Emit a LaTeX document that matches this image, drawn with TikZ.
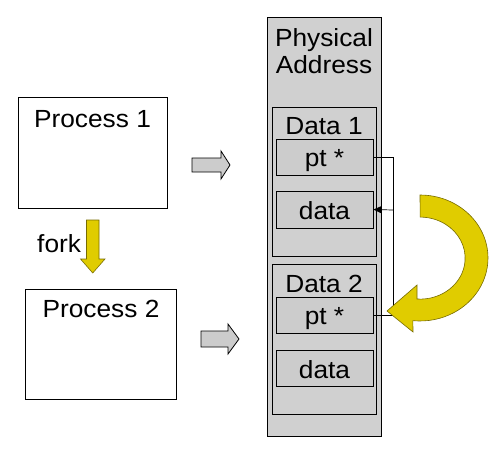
\documentclass[tikz,border=0pt]{standalone}
\usepackage{fontspec}
\setmainfont[FakeStretch=1.06]{Liberation Sans}
\usetikzlibrary{arrows.meta}
\definecolor{colgray}{RGB}{208,208,208}
\definecolor{boxgray}{RGB}{204,204,204}
\definecolor{yell}{RGB}{224,204,0}
\definecolor{yelldark}{RGB}{120,108,0}
\tikzset{
  rbox/.style={draw=black, line width=0.8pt, inner sep=0pt},
  lbl/.style={anchor=base, inner sep=0pt, font=\fontsize{24.8}{26}\selectfont},
  blockarrow/.style={draw=black, line width=0.8pt, fill=boxgray, line join=miter},
  yarrow/.style={draw=yelldark, line width=0.6pt, fill=yell, line join=miter},
  wire/.style={draw=black, line width=0.7pt}
}
\begin{document}
\begin{tikzpicture}[x=1pt,y=-1pt]
\useasboundingbox (0,0) rectangle (496,448);
% physical column
\node[rbox, fill=colgray, minimum width=114, minimum height=419] (col) at (324,226.5) {};
\node[rbox, minimum width=104, minimum height=149] (d1) at (324,181.5) {};
\node[rbox, minimum width=104, minimum height=150] (d2) at (324,339) {};
\node[rbox, fill=boxgray, minimum width=97, minimum height=36] (pt1) at (324.5,157) {};
\node[rbox, fill=boxgray, minimum width=97, minimum height=37] (da1) at (324.5,209.5) {};
\node[rbox, fill=boxgray, minimum width=97, minimum height=36] (pt2) at (324.5,315) {};
\node[rbox, fill=boxgray, minimum width=97, minimum height=36] (da2) at (324.5,368) {};
\node[lbl] (t1) at (324,46) {Physical};
\node[lbl] (t2) at (324,73) {Address};
\node[lbl] (t3) at (324,134) {Data 1};
\node[lbl] (t4) at (324,292) {Data 2};
\node[lbl] (t5) at (324.5,166) {pt *};
\node[lbl] (t6) at (324.5,219) {data};
\node[lbl] (t7) at (324.5,324) {pt *};
\node[lbl] (t8) at (324.5,378) {data};
% processes
\node[rbox, fill=white, minimum width=149, minimum height=111] (p1) at (92.5,152.5) {};
\node[rbox, fill=white, minimum width=151, minimum height=110] (p2) at (101,344) {};
\node[lbl] (t9) at (92.5,127) {Process 1};
\node[lbl] (t10) at (101,317) {Process 2};
\node[lbl, anchor=base west] (fork) at (37,252) {fork};
% pointer wires
\coordinate (j) at (393,210);
\draw[wire] (pt2.east) -- (393,315) |- (pt1.east);
\draw[wire, -{Triangle[length=8pt,width=7pt]}] (j) -- (da1.east);
% gray block arrows
\draw[blockarrow] (192,158) -- (221,158) -- (221,151) -- (230,165) -- (221,179) -- (221,172) -- (192,172) -- cycle;
\draw[blockarrow] (201,331) -- (228,331) -- (228,324) -- (239,339) -- (228,354) -- (228,347) -- (201,347) -- cycle;
% fork arrow
\draw[yarrow] (86.5,220) -- (99,220) -- (99,259) -- (105,259) -- (92.75,273) -- (80.5,259) -- (86.5,259) -- cycle;
% curved arrow
\draw[yarrow] (420,195) arc[start angle=-90, end angle=96, x radius=68, y radius=63]
  -- (413,332) -- (387,311) -- (417,285) -- (417,299)
  arc[start angle=94, end angle=-90, x radius=45, y radius=41] -- cycle;
\end{tikzpicture}
\end{document}
